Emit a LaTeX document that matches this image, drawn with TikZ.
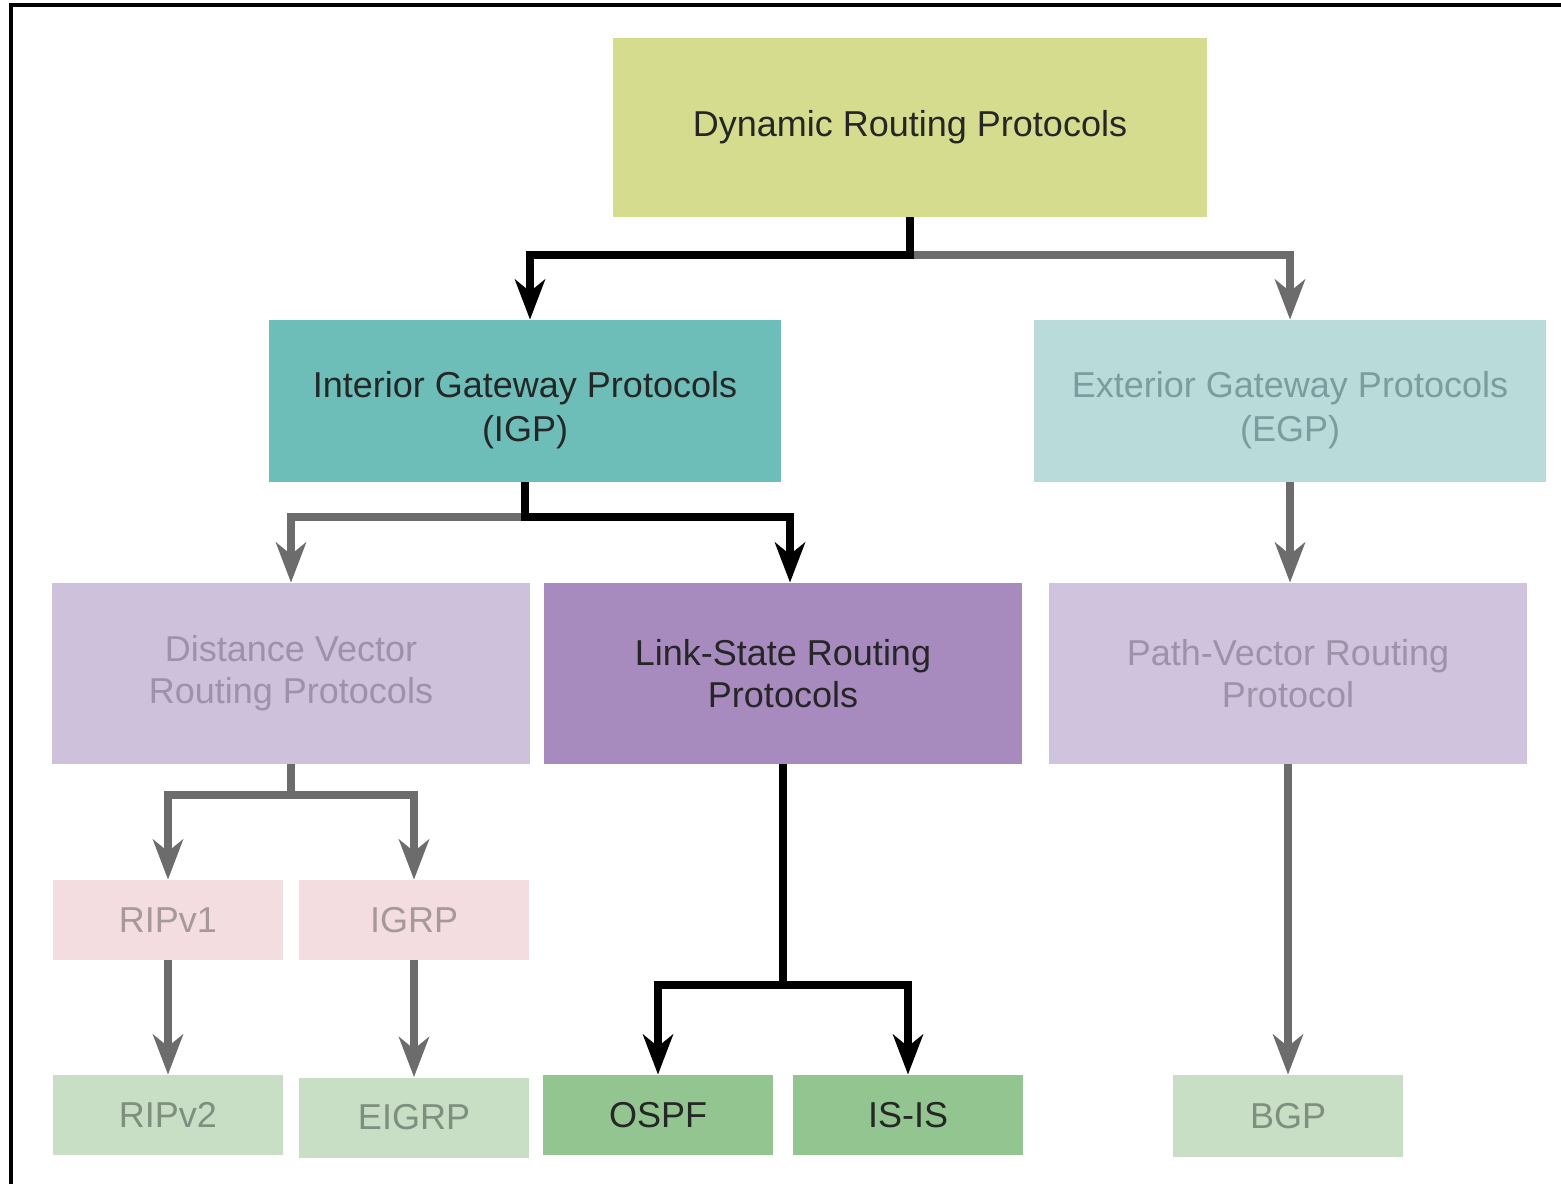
\documentclass[tikz,border=0pt]{standalone}
\usepackage{fontspec}
\setmainfont{Liberation Sans}
\usetikzlibrary{arrows.meta}

\definecolor{dynfill}{HTML}{D5DC8D}
\definecolor{igpfill}{HTML}{6DBDB8}
\definecolor{egpfill}{HTML}{B9DCDB}
\definecolor{dvfill}{HTML}{CEC1DB}
\definecolor{lsfill}{HTML}{A78BBE}
\definecolor{pvfill}{HTML}{D0C3DE}
\definecolor{pinkfill}{HTML}{F3DDE0}
\definecolor{palegreen}{HTML}{C8DFC6}
\definecolor{green}{HTML}{92C58F}
\definecolor{darktext}{HTML}{262626}
\definecolor{egptext}{HTML}{7C9C9D}
\definecolor{purpletext}{HTML}{9E92AA}
\definecolor{pinktext}{HTML}{A6999B}
\definecolor{greentext}{HTML}{7E8F7E}
\definecolor{connector}{HTML}{6C6C6C}

\tikzset{
  box/.style={rectangle, inner sep=0pt, align=center,
    font=\fontsize{18pt}{21pt}\selectfont},
  bigbox/.style={box, minimum width=256pt, minimum height=81pt},
  midbox/.style={box, minimum width=239pt, minimum height=90.5pt},
  smallbox/.style={box, minimum width=115pt, minimum height=40pt},
  boxtext/.style={inner sep=0pt, align=center,
    font=\fontsize{18pt}{22pt}\selectfont},
  link/.style={line width=4pt, -{Stealth[length=20pt,width=15pt,inset=6pt]}},
  plainlink/.style={line width=4pt},
  blk/.style={draw=black, color=black},
  gry/.style={draw=connector, color=connector},
}

\begin{document}
\begin{tikzpicture}[x=0.5pt,y=-0.5pt]
\useasboundingbox (0,0) rectangle (1561,1184);
\fill[white] (0,0) rectangle (1561,1184);

% frame
\draw[line width=2pt] (11,1184) -- (11,5) -- (1561,5);

% top level
\node[box, fill=dynfill, text=darktext, minimum width=297pt, minimum height=89.5pt]
  (dyn) at (910,127.5) {Dynamic Routing Protocols};

% gateway protocols (text set a little below the box centre)
\node[bigbox, fill=igpfill] (igp) at (525,401) {};
\node[boxtext, text=darktext] (igptext) at (525,410)
  {Interior Gateway Protocols\\(IGP)};
\node[bigbox, fill=egpfill] (egp) at (1290,401) {};
\node[boxtext, text=egptext] (egptext) at (1290,410)
  {Exterior Gateway Protocols\\(EGP)};

% protocol families
\node[midbox, fill=dvfill, text=purpletext] (dv) at (291,673.5)
  {Distance Vector\\Routing Protocols};
\node[midbox, fill=lsfill, text=darktext] (ls) at (783,673.5)
  {Link-State Routing\\Protocols};
\node[midbox, fill=pvfill, text=purpletext] (pv) at (1288,673.5)
  {Path-Vector Routing\\Protocol};

% classful protocols
\node[smallbox, fill=pinkfill, text=pinktext] (rip1) at (168,920) {RIPv1};
\node[smallbox, fill=pinkfill, text=pinktext] (igrp) at (414,920) {IGRP};

% current protocols
\node[smallbox, fill=palegreen, text=greentext] (rip2) at (168,1115) {RIPv2};
\node[smallbox, fill=palegreen, text=greentext] (eigrp) at (414,1117.5) {EIGRP};
\node[smallbox, fill=green, text=darktext] (ospf) at (658,1115) {OSPF};
\node[smallbox, fill=green, text=darktext] (isis) at (908,1115) {IS-IS};
\node[smallbox, fill=palegreen, text=greentext, minimum height=41pt] (bgp) at (1288,1116) {BGP};

% junction points
\coordinate (j1) at (910,255);
\coordinate (j2) at (525,517);
\coordinate (j3) at (291,795);
\coordinate (j4) at (783,985);

% dynamic -> IGP / EGP
\draw[link, gry] (j1) -| (egp.north);
\draw[link, blk] (dyn.south) -- (j1) -| ([xshift=2.5pt]igp.north);

% IGP -> DV / LS
\draw[link, gry] (j2) -| (dv.north);
\draw[link, blk] (igp.south) -- (j2) -| ([xshift=3.5pt]ls.north);

% EGP -> path vector
\draw[link, gry] (egp.south) -- (egp.south |- pv.north);

% DV -> RIPv1 / IGRP
\draw[plainlink, gry] (dv.south) -- (j3);
\draw[link, gry] (j3) -| (rip1.north);
\draw[link, gry] (j3) -| (igrp.north);

% LS -> OSPF / IS-IS
\draw[plainlink, blk] (ls.south) -- (j4);
\draw[link, blk] (j4) -| (ospf.north);
\draw[link, blk] (j4) -| (isis.north);

% successors
\draw[link, gry] (rip1.south) -- (rip2.north);
\draw[link, gry] (igrp.south) -- (eigrp.north);
\draw[link, gry] (pv.south) -- (bgp.north);
\end{tikzpicture}
\end{document}
